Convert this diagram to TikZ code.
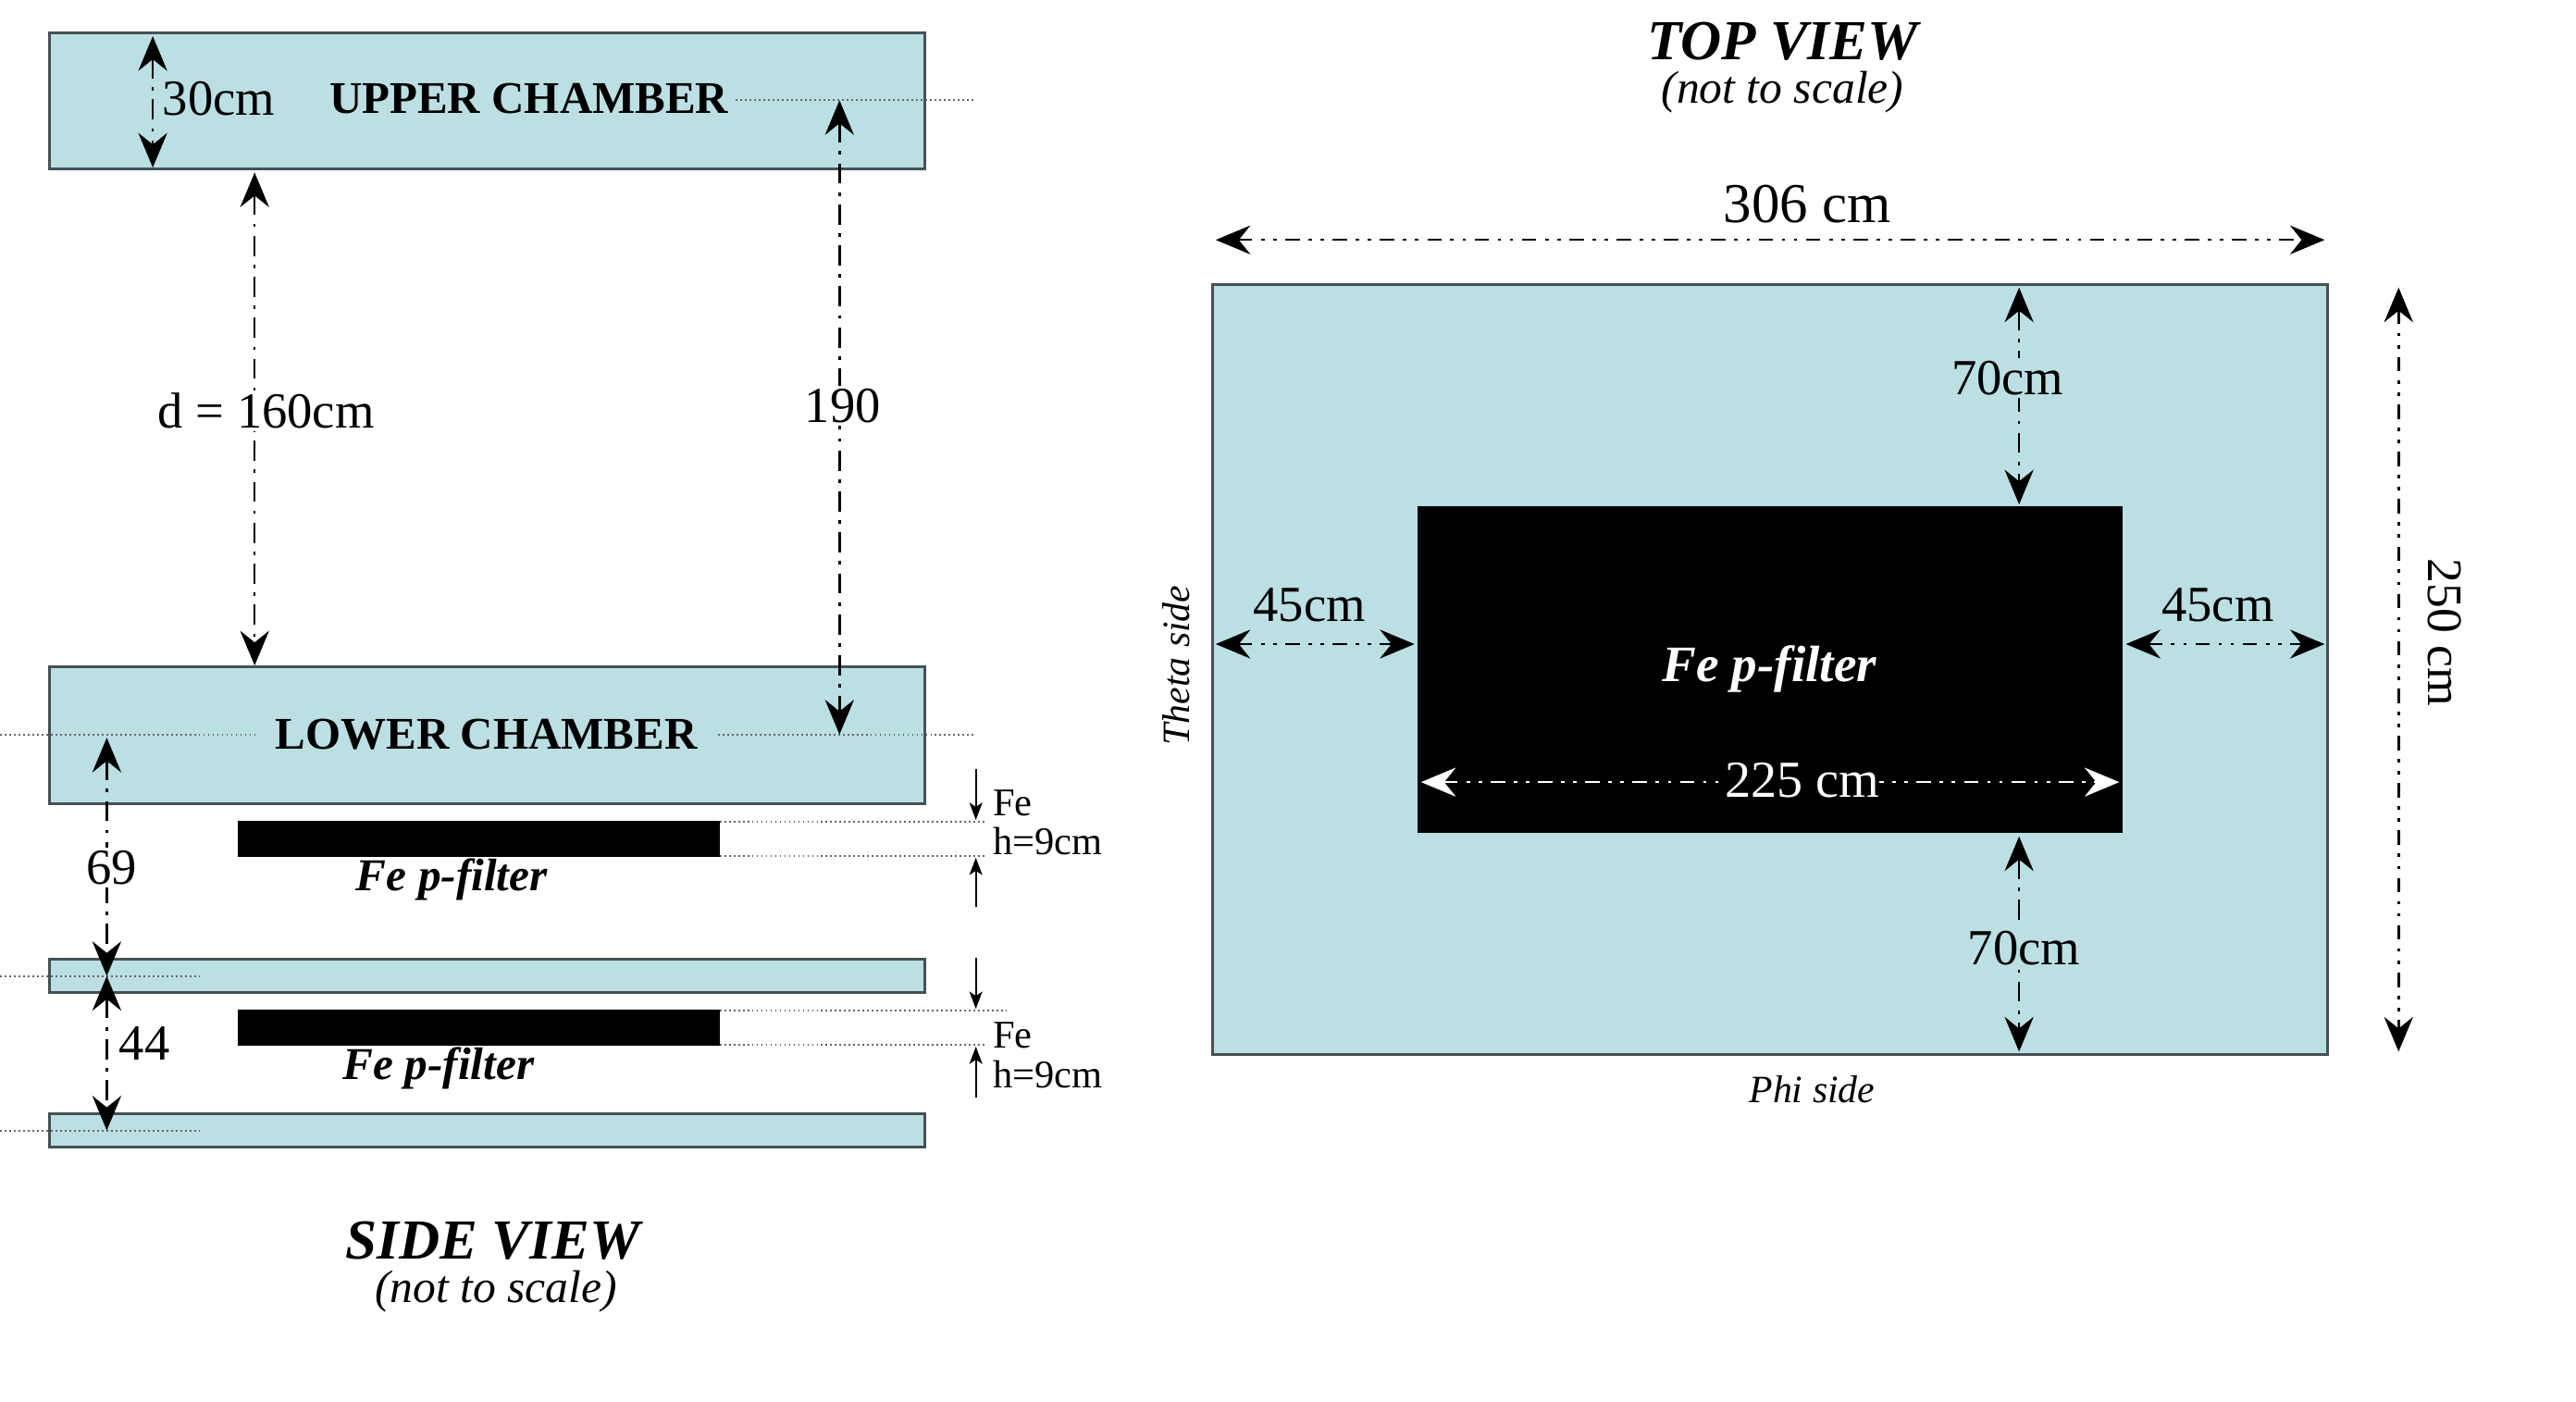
\documentclass[tikz,border=0pt]{standalone}
\usepackage{fontspec}
\setmainfont{Liberation Serif}
\usetikzlibrary{arrows.meta,positioning,calc}
\definecolor{chblue}{RGB}{187,223,227}
\definecolor{chedge}{RGB}{70,80,85}

\begin{document}
\begin{tikzpicture}[x=0.02cm,y=-0.02cm,
	chamber/.style={fill=chblue,draw=chedge,line width=1pt},
	filter/.style={fill=black,draw=black},
	guide/.style={densely dotted,line width=0.6pt,gray!80!black},
	dimA/.style={{Stealth[length=12pt,width=10pt,inset=4pt]}-{Stealth[length=12pt,width=10pt,inset=4pt]},line width=0.8pt,dash pattern=on 7pt off 3pt on 1.2pt off 3pt},
	dimB/.style={{Stealth[length=12pt,width=10pt,inset=4pt]}-{Stealth[length=12pt,width=10pt,inset=4pt]},line width=0.8pt,dash pattern=on 5pt off 3pt on 1.2pt off 3pt on 1.2pt off 3pt},
	thin/.style={-{Stealth[length=6pt,width=4.5pt,inset=1.5pt]},line width=0.6pt},
	chlab/.style={font=\bfseries\fontsize{15.7}{18}\selectfont,inner sep=0pt},
	dimlab/.style={font=\fontsize{17.5}{20}\selectfont,inner sep=1pt},
	felab/.style={font=\fontsize{13.6}{15}\selectfont,inner sep=0pt,anchor=west},
	filab/.style={font=\bfseries\itshape\fontsize{15.8}{18}\selectfont,inner sep=0pt},
	title/.style={font=\bfseries\itshape\fontsize{19.6}{22}\selectfont,inner sep=0pt},
	subtitle/.style={font=\itshape\fontsize{15.9}{18}\selectfont,inner sep=0pt},
	sidelab/.style={font=\itshape\fontsize{13.4}{15}\selectfont,inner sep=0pt},
	]
	\fill[white] (0,0) rectangle (1568,853);
	\useasboundingbox (0,0) rectangle (1568,853);
	% side view
	\draw[chamber] (30,20) rectangle (563,103);
	\draw[chamber] (30,406) rectangle (563,489);
	\draw[filter] (145,500) rectangle (438,521);
	\draw[chamber] (30,584) rectangle (563,604);
	\draw[filter] (145,615) rectangle (438,636);
	\draw[chamber] (30,678) rectangle (563,698);
	\node (uc) [chlab] at (322,60) {UPPER CHAMBER};
	\node (lc) [chlab] at (296,447) {LOWER CHAMBER};
	\coordinate (ucm) at (511,61);
	\coordinate (lcm) at (511,447);
	\coordinate (t1m) at (65,594);
	\coordinate (t2m) at (65,688);
	\draw[guide] (448,61) -- (593,61);
	\draw[guide] (0,447) -- (156,447);
	\draw[guide] (437,447) -- (593,447);
	\draw[guide] (0,594) -- (123,594);
	\draw[guide] (0,688) -- (123,688);
	\draw[guide] (438,500) -- (600,500);
	\draw[guide] (438,521) -- (600,521);
	\draw[guide] (438,615) -- (613,615);
	\draw[guide] (438,636) -- (600,636);
	% dimensions
	\draw[dimA] (93,22) -- (93,102);
	\node (h30) [dimlab,anchor=west] at (97,60) {30cm};
	\draw[dimA] (155,105) -- (155,405);
	\node (d) [dimlab,fill=white] at (162,250) {d = 160cm};
	\draw[dimA] (ucm) -- (lcm);
	\node (h190) [dimlab,fill=white] at (513,247) {190};
	\draw[dimA] (65,449) -- (t1m);
	\node (h69) [dimlab,fill=white] at (68,528) {69};
	\draw[dimA] (t1m) -- (t2m);
	\node (h44) [dimlab] at (88,635) {44};
	\draw[thin] (594,468) -- (594,499);
	\draw[thin] (594,552) -- (594,522);
	\draw[thin] (594,583) -- (594,614);
	\draw[thin] (594,668) -- (594,637);
	\node (fe1) [felab] at (604,489) {Fe};
	\node (hf1) [felab] at (604,512) {h=9cm};
	\node (fe2) [felab] at (604,630) {Fe};
	\node (hf2) [felab] at (604,654) {h=9cm};
	\node (f1) [filab] at (275,535) {Fe p-filter};
	\node (f2) [filab] at (267,650) {Fe p-filter};
	\node (sv) [title] at (300,755) {SIDE VIEW};
	\node (svs) [subtitle] at (302,786) {(not to scale)};
	% top view
	\node (tv) [title] at (1085,25) {TOP VIEW};
	\node (tvs) [subtitle] at (1085,56) {(not to scale)};
	\draw[chamber] (738,173) rectangle (1417,642);
	\fill (863,308) rectangle (1292,507);
	\draw[dimB] (740,146) -- (1415,146);
	\node (w306) [dimlab,font=\fontsize{19.5}{22}\selectfont] at (1100,124) {306 cm};
	\draw[dimA] (1229,175) -- (1229,307);
	\node (t70) [dimlab,fill=chblue] at (1222,230) {70cm};
	\draw[dimA] (1229,509) -- (1229,640);
	\node (b70) [dimlab,fill=chblue] at (1232,577) {70cm};
	\draw[dimB] (740,392) -- (861,392);
	\node (l45) [dimlab] at (797,368) {45cm};
	\draw[dimB] (1294,392) -- (1415,392);
	\node (r45) [dimlab] at (1350,368) {45cm};
	\node (tf) [filab,white,font=\bfseries\itshape\fontsize{17.7}{20}\selectfont] at (1077,407) {Fe p-filter};
	\draw[dimB,white] (865,476) -- (1290,476);
	\node (w225) [dimlab,fill=black,text=white,font=\fontsize{18}{20}\selectfont,inner xsep=0pt] at (1097,475) {225 cm};
	\draw[dimB] (1460,175) -- (1460,640);
	\node (h250) [dimlab,rotate=-90,font=\fontsize{17.2}{20}\selectfont] at (1488,385) {250 cm};
	\node (th) [sidelab,rotate=90] at (716,405) {Theta side};
	\node (ph) [sidelab] at (1103,663) {Phi side};
\end{tikzpicture}
\end{document}
